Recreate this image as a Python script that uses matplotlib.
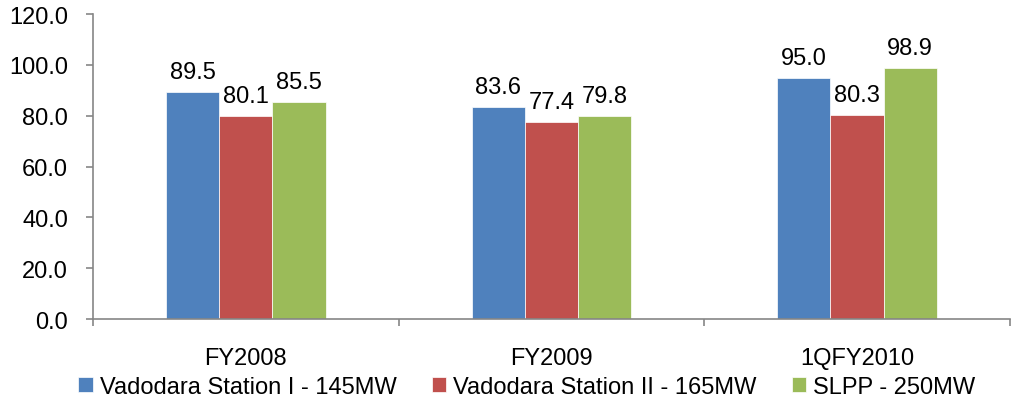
import numpy as np
import matplotlib.pyplot as plt

plt.rcParams['font.family'] = ['Liberation Sans', 'DejaVu Sans']

categories = ['FY2008', 'FY2009', '1QFY2010']
series_names = ['Vadodara Station I - 145MW', 'Vadodara Station II - 165MW', 'SLPP - 250MW']
station1 = [89.5, 83.6, 95.0]
station2 = [80.1, 77.4, 80.3]
slpp = [85.5, 79.8, 98.9]
colors = ['#4f81bd', '#c0504d', '#9bbb59']

fig = plt.figure(figsize=(10.19, 4.10), dpi=100)
ax = fig.add_axes([0.0913, 0.2195, 0.8997, 0.7435])

x = np.arange(len(categories))
w = 0.174
for i, (vals, name, c) in enumerate(zip([station1, station2, slpp], series_names, colors)):
    bars = ax.bar(x + (i - 1) * w, vals, w, color=c, label=name, edgecolor='white', linewidth=0.5)
    for b, v in zip(bars, vals):
        ax.text(b.get_x() + b.get_width() / 2, v + 3.5, f'{v:.1f}', ha='center', va='bottom', fontsize=17)

ax.set_xlim(-0.5, len(categories) - 0.5)
ax.set_ylim(0, 120)
ax.set_yticks(np.arange(0, 121, 20))
ax.set_yticklabels([f'{t:.1f}' for t in np.arange(0, 121, 20)], fontsize=17)
ax.set_xticks(np.arange(-0.5, len(categories), 1.0))
ax.set_xticklabels([])
ax.set_xticks(x, minor=True)
ax.set_xticklabels(categories, minor=True, fontsize=17)
ax.tick_params(axis='x', which='minor', length=0, pad=20)
ax.tick_params(axis='both', which='major', direction='out', length=5, color='#868686', width=1.2)
ax.tick_params(axis='y', pad=13)

for s in ['top', 'right']:
    ax.spines[s].set_visible(False)
for s in ['left', 'bottom']:
    ax.spines[s].set_color('#868686')
    ax.spines[s].set_linewidth(1.2)

fig.legend(loc='center', bbox_to_anchor=(0.517, 0.054), ncol=3, frameon=False, fontsize=17,
           handlelength=0.6, handleheight=0.6, handletextpad=0.3, columnspacing=1.5,
           borderpad=0, borderaxespad=0)

fig.savefig('out.png', dpi=100)
